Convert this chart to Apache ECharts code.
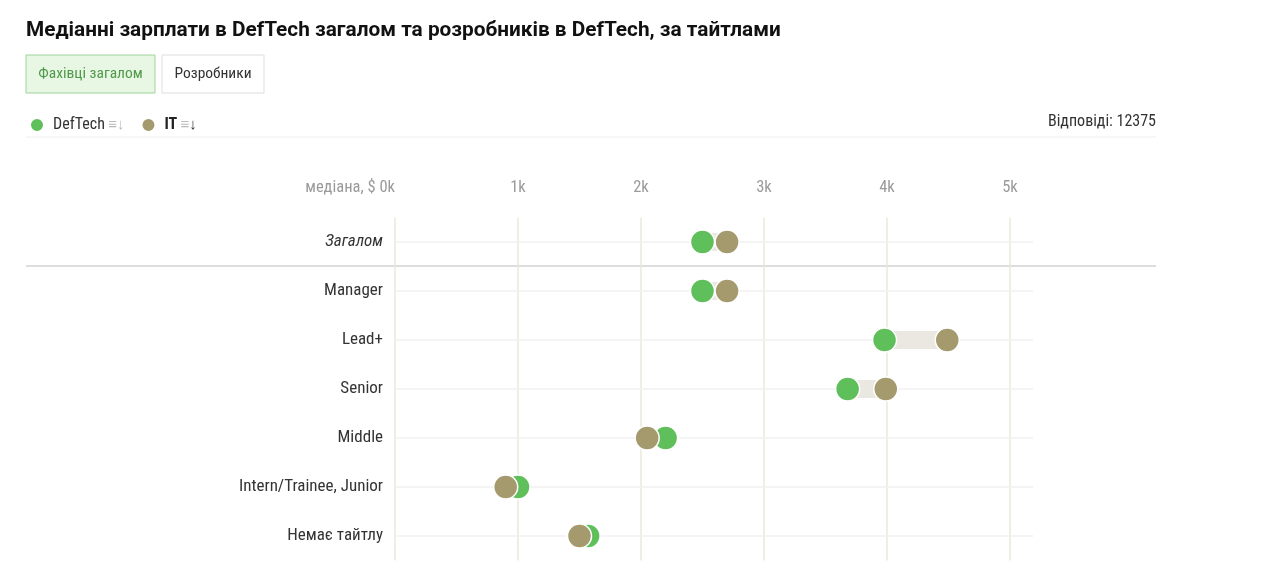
<!DOCTYPE html>
<html><head><meta charset="utf-8">
<script src="https://cdn.jsdelivr.net/npm/echarts@6/dist/echarts.min.js"></script>
<style>html,body{margin:0;background:#fff}#c{width:1280px;height:577px}</style>
</head><body><div id="c"></div>
<script>
const categories = ['Загалом','Manager','Lead+','Senior','Middle','Intern/Trainee, Junior','Немає тайтлу'];
const defTech = [2.5, 2.5, 3.98, 3.68, 2.2, 1.0, 1.57];
const itVals = [2.7, 2.7, 4.49, 3.99, 2.05, 0.9, 1.5];
const tickLabels = ['медіана, $ 0k','1k','2k','3k','4k','5k'];
const F = '"Liberation Sans Narrow", "Roboto Condensed", Roboto, sans-serif';
const chart = echarts.init(document.getElementById('c'));
chart.setOption({
  animation:false,
  grid:{left:395,top:217.5,width:615,height:343},
  xAxis:{type:'value',position:'top',min:0,max:5,interval:1,
    axisLine:{show:false},axisTick:{show:false},
    axisLabel:{formatter:(v)=>tickLabels[v],color:'#9a9a9a',fontFamily:F,fontSize:16.5,margin:21,alignMinLabel:'right'},
    splitLine:{lineStyle:{color:'#ebe9d9',width:1.5}}},
  yAxis:{type:'category',data:categories,inverse:true,
    axisLine:{show:false},axisTick:{show:false},
    axisLabel:{color:'#333',fontFamily:F,fontSize:17,margin:12,
      formatter:(v)=>v==='Загалом'?'{i|'+v+'}':v,rich:{i:{fontStyle:'italic',fontFamily:F,fontSize:17,color:'#333'}}}},
  series:[
    {type:'custom',data:categories.map((c,i)=>[i,defTech[i],itVals[i]]),
     renderItem:(p,api)=>{
       const a=api.coord([api.value(1),api.value(0)]),b=api.coord([api.value(2),api.value(0)]);
       const y=a[1];
       const line={type:'line',shape:{x1:395,y1:y,x2:1033,y2:y},style:{stroke:'#f0f0f0',lineWidth:1.5}};
       const x1=Math.min(a[0],b[0]),x2=Math.max(a[0],b[0]);
       return {type:'group',children:[line,{type:'rect',shape:{x:x1,y:y-9,width:x2-x1,height:18},style:{fill:'#ebe8e2'}}]};
     },z:1},
    {name:'DefTech',type:'scatter',data:defTech.map((v,i)=>[v,i]),symbolSize:24,
     itemStyle:{color:'#5fbf5a',borderColor:'#fff',borderWidth:1.5,opacity:1},z:3},
    {name:'IT',type:'scatter',data:itVals.map((v,i)=>[v,i]),symbolSize:24,
     itemStyle:{color:'#a59a6e',borderColor:'#fff',borderWidth:1.5,opacity:1},z:4}
  ],
  legend:{left:24,top:112,itemWidth:14,itemHeight:14,itemGap:16,icon:'circle',
    data:['DefTech','IT'],
    formatter:(n)=>n==='IT'?'{b|IT} {s|≡}{a|↓}':'{n|DefTech} {s|≡}{s|↓}',
    textStyle:{rich:{n:{fontFamily:F,fontSize:16,color:'#333',padding:[0,0,0,4]},b:{fontFamily:F,fontSize:16,fontWeight:'bold',color:'#222',padding:[0,0,0,4]},s:{fontSize:15,color:'#bbb'},a:{fontSize:15,color:'#333'}}}},
  graphic:[
    {type:'text',left:26,top:20,style:{text:'Медіанні зарплати в DefTech загалом та розробників в DefTech, за тайтлами',font:'bold 20.8px Roboto, sans-serif',fill:'#111'}},
    {type:'rect',shape:{x:26,y:55,width:129,height:38},style:{fill:'#e8f6e4',stroke:'#9ed49a',lineWidth:1}},
    {type:'text',x:90.5,y:74,style:{text:'Фахівці загалом',font:'15.5px '+F,fill:'#4f9a4a',align:'center',verticalAlign:'middle'}},
    {type:'rect',shape:{x:162,y:55,width:102,height:38},style:{fill:'#fff',stroke:'#ddd',lineWidth:1}},
    {type:'text',x:213,y:74,style:{text:'Розробники',font:'15.5px '+F,fill:'#333',align:'center',verticalAlign:'middle'}},
    {type:'text',x:1156,y:122,style:{text:'Відповіді: 12375',font:'16px '+F,fill:'#333',align:'right',verticalAlign:'middle'}},
    {type:'line',shape:{x1:26,y1:137,x2:1156,y2:137},style:{stroke:'#eee',lineWidth:1}},
    {type:'line',shape:{x1:26,y1:266,x2:1156,y2:266},style:{stroke:'#bbb',lineWidth:1}}
  ]
});
</script></body></html>
